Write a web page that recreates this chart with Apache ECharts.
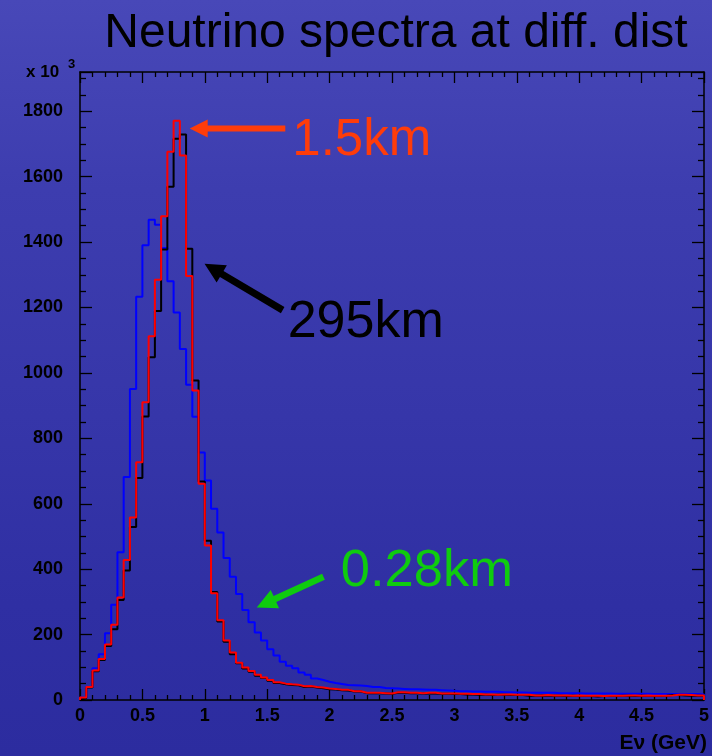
<!DOCTYPE html>
<html>
<head>
<meta charset="utf-8">
<script src="https://cdn.jsdelivr.net/npm/echarts@6/dist/echarts.min.js"></script>
<style>
  html, body { margin: 0; padding: 0; }
  #chart {
    width: 712px; height: 756px;
    background: linear-gradient(180deg, #4848b8 0%, #3d3daf 25%, #3636a9 55%, #2f2fa3 80%, #2c2c9f 100%);
  }
</style>
</head>
<body>
<div id="chart"></div>
<script>
// Histogram binning: 100 bins of 0.05 GeV between 0 and 5 GeV
const binWidth = 0.05;
const binLowEdges = Array.from({ length: 100 }, (_, i) => +(i * binWidth).toFixed(2));

// Event counts per bin (x 10^3) for each baseline
const flux028km = [
  8, 40, 97, 140, 204, 291, 452, 682, 951, 1233,
  1390, 1468, 1453, 1382, 1280, 1185, 1073, 964, 866, 757,
  671, 585, 512, 434, 377, 324, 275, 238, 206, 182,
  155, 136, 117, 105, 97, 84, 77, 66, 61, 56,
  52, 49, 46, 45, 44, 43, 40, 40, 37, 36,
  35, 34, 33, 33, 32, 31, 31, 30, 29, 28,
  27, 27, 26, 26, 25, 25, 25, 24, 24, 23,
  23, 22, 22, 22, 22, 22, 21, 21, 21, 21,
  20, 20, 20, 20, 20, 19, 19, 19, 19, 19,
  19, 18, 18, 18, 18, 18, 18, 18, 18, 17
];
const flux295km = [
  6, 38, 88, 122, 165, 216, 306, 396, 529, 679,
  867, 1048, 1189, 1377, 1569, 1716, 1729, 1380, 977, 668,
  487, 330, 240, 178, 140, 112, 96, 86, 74, 67,
  59, 52, 48, 46, 45, 40, 41, 38, 36, 33,
  32, 30, 29, 26, 26, 21, 21, 21, 20, 19,
  22, 22, 21, 21, 20, 21, 20, 19, 19, 18,
  18, 17, 17, 16, 16, 15, 16, 16, 15, 15,
  15, 13, 13, 14, 13, 13, 13, 12, 13, 12,
  12, 12, 11, 12, 12, 12, 13, 13, 12, 13,
  12, 12, 12, 13, 15, 15, 14, 13, 13, 13
];
const flux15km = [
  8, 40, 90, 125, 170, 230, 313, 428, 558, 727,
  910, 1112, 1285, 1479, 1676, 1771, 1665, 1296, 946, 661,
  472, 326, 244, 182, 145, 114, 99, 89, 77, 69,
  61, 54, 50, 48, 47, 42, 43, 40, 38, 35,
  34, 31, 31, 27, 27, 22, 22, 22, 21, 20,
  24, 24, 22, 22, 21, 22, 22, 20, 20, 20,
  19, 19, 18, 18, 17, 17, 16, 17, 17, 16,
  16, 16, 14, 14, 15, 14, 14, 14, 13, 14,
  13, 13, 13, 12, 13, 13, 13, 14, 14, 13,
  14, 13, 13, 13, 14, 16, 16, 15, 14, 14
];

// Axis ranges and tick spacing
const xRange = [0, 5];
const xMajorStep = 0.5;
const yRange = [0, 1920];
const yMajorStep = 200;

// Annotations (data coordinates)
const labelTexts = ['1.5km', '295km', '0.28km'];
const labelAnchors = [[1.701, 1710], [1.664, 1153], [2.090, 393]];
const arrowTails = [[1.645, 1747], [1.624, 1192], [1.951, 377]];
const arrowTips = [[0.879, 1747], [0.998, 1334], [1.416, 283]];
const annotationColors = ['#ff3c0a', '#000000', '#0fcb0f'];

const FONT = "'Liberation Sans', Arial, Helvetica, sans-serif";

// Step-histogram outline: start at the baseline, one point per bin low edge, close at the upper edge
function histPoints(values) {
  const pts = [[binLowEdges[0], 0]];
  values.forEach((v, i) => pts.push([binLowEdges[i], v]));
  pts.push([xRange[1], values[values.length - 1]]);
  pts.push([xRange[1], 0]);
  return pts;
}

function histSeries(name, values, color) {
  return {
    name, type: 'line', step: 'end', data: histPoints(values),
    xAxisIndex: 0, yAxisIndex: 0,
    showSymbol: false, symbol: 'none', clip: false, animation: false,
    lineStyle: { color, width: 2 }
  };
}

const tickLine = { color: '#000', width: 1.3 };
const frameLine = { show: true, onZero: false, lineStyle: { color: '#000', width: 1.5 } };

function xAxisDef(position, showLabels) {
  return {
    type: 'value', position, min: xRange[0], max: xRange[1], interval: xMajorStep,
    axisLine: frameLine,
    axisTick: { show: true, inside: true, length: 11, lineStyle: tickLine },
    minorTick: { show: true, splitNumber: 5, length: 5, lineStyle: tickLine },
    splitLine: { show: false },
    axisLabel: {
      show: showLabels, margin: 7, color: '#000', fontFamily: FONT, fontWeight: 'bold', fontSize: 18,
      formatter: v => String(v)
    }
  };
}

function yAxisDef(position, showLabels) {
  return {
    type: 'value', position, min: yRange[0], max: yRange[1], interval: yMajorStep,
    axisLine: frameLine,
    axisTick: { show: true, inside: true, length: 12, lineStyle: tickLine },
    minorTick: { show: true, splitNumber: 4, length: 6, lineStyle: tickLine },
    splitLine: { show: false },
    axisLabel: {
      show: showLabels, margin: 17, color: '#000', fontFamily: FONT, fontWeight: 'bold', fontSize: 18,
      showMaxLabel: false, formatter: v => String(v)
    }
  };
}

const option = {
  animation: false,
  backgroundColor: 'transparent',
  grid: { left: 80, right: 6, top: 72, bottom: 56, containLabel: false },
  xAxis: [xAxisDef('bottom', true), xAxisDef('top', false)],
  yAxis: [yAxisDef('left', true), yAxisDef('right', false)],
  series: [
    histSeries('0.28km', flux028km, '#0000ff'),
    histSeries('295km', flux295km, '#000000'),
    histSeries('1.5km', flux15km, '#ff0000')
  ]
};

const chart = echarts.init(document.getElementById('chart'), null, { renderer: 'canvas' });
chart.setOption(option);

// Solid arrow outline from tail to tip (pixel space)
function arrowPolygon(tail, tip, shaft, headHalf, headLen) {
  const dx = tip[0] - tail[0], dy = tip[1] - tail[1];
  const len = Math.hypot(dx, dy);
  const ux = dx / len, uy = dy / len;
  const nx = -uy, ny = ux;
  const bx = tip[0] - ux * headLen, by = tip[1] - uy * headLen;
  const s = shaft / 2;
  return [
    [tail[0] + nx * s, tail[1] + ny * s],
    [bx + nx * s, by + ny * s],
    [bx + nx * headHalf, by + ny * headHalf],
    [tip[0], tip[1]],
    [bx - nx * headHalf, by - ny * headHalf],
    [bx - nx * s, by - ny * s],
    [tail[0] - nx * s, tail[1] - ny * s]
  ];
}

const toPx = pt => chart.convertToPixel({ seriesIndex: 0 }, pt);
const arrowDims = [[6, 9, 18], [7, 10, 20], [6.5, 10, 20]];
const labelSizes = [51, 52, 52.5];

const graphics = [
  {
    type: 'text',
    style: {
      text: 'Neutrino spectra at diff. dist', x: 396, y: 34, align: 'center', verticalAlign: 'middle',
      fill: '#000', font: '48px ' + FONT
    }
  },
  {
    type: 'text',
    style: { text: 'x 10', x: 26, y: 72.5, align: 'left', verticalAlign: 'middle', fill: '#000', font: 'bold 17px ' + FONT }
  },
  {
    type: 'text',
    style: { text: '3', x: 68, y: 64, align: 'left', verticalAlign: 'middle', fill: '#000', font: 'bold 13px ' + FONT }
  },
  {
    type: 'text',
    style: { text: 'Eν (GeV)', x: 707, y: 743, align: 'right', verticalAlign: 'middle', fill: '#000', font: 'bold 21px ' + FONT }
  }
];

labelTexts.forEach((t, i) => {
  const p = toPx(labelAnchors[i]);
  graphics.push({
    type: 'text',
    style: { text: t, x: p[0], y: p[1], align: 'left', verticalAlign: 'middle', fill: annotationColors[i], font: labelSizes[i] + 'px ' + FONT }
  });
  const [sw, hh, hl] = arrowDims[i];
  graphics.push({
    type: 'polygon',
    shape: { points: arrowPolygon(toPx(arrowTails[i]), toPx(arrowTips[i]), sw, hh, hl) },
    style: { fill: annotationColors[i] }
  });
});

chart.setOption({ graphic: graphics });
</script>
</body>
</html>
